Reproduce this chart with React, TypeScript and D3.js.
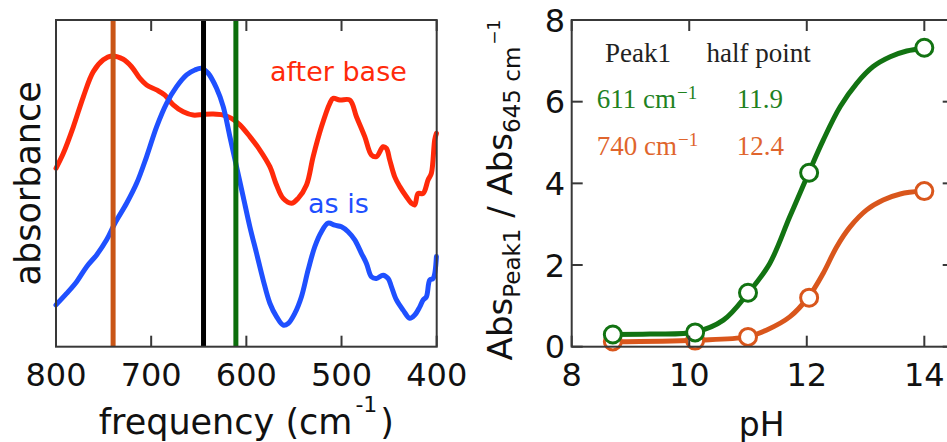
import React from 'react';
import * as d3 from 'd3';

// ---------- left panel: IR spectra ----------
const freqTicks = [800, 700, 600, 500, 400];

const afterBaseFreq = [800, 792.3, 781.8, 771.3, 760.8, 750.3, 741.6, 729.3, 720.6, 711.8, 704.8, 694.3, 685.6, 676.8, 666.3, 655.8, 645.3, 634.8, 624.3, 615.6, 606.8, 596.3, 585.8, 575.3, 568.3, 561.3, 552.6, 545.6, 536.8, 529.8, 521.1, 512.3, 508.8, 501.8, 491.3, 484.3, 475.6, 468.6, 463.3, 456.3, 452.8, 449.3, 444.1, 438.8, 431.8, 426.6, 423.1, 419.6, 414.3, 409.1, 405.6, 402.1, 400.3];
const afterBaseAbs = [0.546, 0.592, 0.673, 0.765, 0.842, 0.878, 0.89, 0.88, 0.857, 0.821, 0.801, 0.786, 0.77, 0.74, 0.719, 0.709, 0.711, 0.712, 0.709, 0.699, 0.679, 0.643, 0.602, 0.551, 0.495, 0.454, 0.439, 0.454, 0.495, 0.582, 0.673, 0.745, 0.76, 0.755, 0.755, 0.704, 0.643, 0.587, 0.582, 0.612, 0.607, 0.571, 0.52, 0.49, 0.459, 0.439, 0.434, 0.469, 0.469, 0.51, 0.531, 0.633, 0.653];

const asIsFreq = [800, 788.8, 778.3, 767.8, 757.3, 746.8, 738.1, 725.8, 715.3, 704.8, 694.3, 683.8, 673.3, 662.8, 654.1, 647.1, 640.1, 631.3, 624.3, 617.3, 610.3, 603.3, 596.3, 589.3, 582.3, 575.3, 568.3, 561.3, 556.1, 549.1, 542.1, 535.1, 528.1, 521.1, 514.1, 507.1, 500.1, 493.1, 486.1, 479.1, 473.8, 468.6, 463.3, 456.3, 451.1, 447.6, 442.3, 435.3, 428.3, 423.1, 417.8, 414.3, 410.8, 407.3, 403.8, 400.3];
const asIsAbs = [0.128, 0.163, 0.199, 0.245, 0.281, 0.327, 0.378, 0.439, 0.5, 0.582, 0.673, 0.745, 0.796, 0.832, 0.847, 0.852, 0.837, 0.791, 0.735, 0.643, 0.551, 0.459, 0.367, 0.286, 0.204, 0.133, 0.092, 0.066, 0.071, 0.102, 0.153, 0.235, 0.306, 0.352, 0.378, 0.372, 0.367, 0.352, 0.327, 0.286, 0.255, 0.214, 0.209, 0.219, 0.209, 0.184, 0.143, 0.112, 0.087, 0.097, 0.122, 0.143, 0.153, 0.204, 0.209, 0.276];

const markerFreqs = [740, 645, 611];
const markerColors = ['#c95516', '#000000', '#0b6e0b'];

// ---------- right panel: peak ratio vs pH ----------
const phTicks = [8, 10, 12, 14];
const ratioTicks = [0, 2, 4, 6, 8];

const phPoints = [8.7, 10.1, 11.0, 12.04, 14.0];
const ratio611 = [0.3, 0.35, 1.32, 4.26, 7.32];
const ratio740 = [0.13, 0.15, 0.24, 1.2, 3.81];

const fit611Ph = [8.7, 9.33, 10.1, 10.58, 11.0, 11.37, 11.71, 12.03, 12.28, 12.57, 12.85, 13.13, 13.42, 13.7, 13.98];
const fit611 = [0.3, 0.31, 0.36, 0.65, 1.31, 2.04, 3.18, 4.25, 5.06, 5.88, 6.45, 6.86, 7.1, 7.24, 7.31];
const fit740Ph = [8.7, 10.1, 10.98, 11.32, 11.71, 12.03, 12.28, 12.51, 12.74, 13.02, 13.3, 13.59, 13.98];
const fit740 = [0.12, 0.16, 0.24, 0.41, 0.73, 1.22, 1.8, 2.45, 2.94, 3.35, 3.59, 3.74, 3.81];

const legendHeader = ['Peak1', 'half point'];
const legendPeaks = ['611 cm', '740 cm'];
const legendHalf = ['11.9', '12.4'];

const RED = '#ff2a0a';
const BLUE = '#1f50ff';
const GREEN = '#127312';
const ORANGE = '#d9561c';
const AXIS = '#383838';
const SANS = '"DejaVu Sans", Verdana, sans-serif';
const SERIF = '"Liberation Serif", "Times New Roman", serif';

export default function App() {
  const top = 20;
  const bottom = 346.7;
  const tickLen = 11;

  // left panel scales
  const xF = d3.scaleLinear().domain([800, 400]).range([56, 436.7]);
  const yA = d3.scaleLinear().domain([0, 1]).range([bottom, top]);
  const spec = d3
    .line<[number, number]>()
    .x((d) => xF(d[0]))
    .y((d) => yA(d[1]))
    .curve(d3.curveCatmullRom.alpha(0.5));
  const afterBase = spec(afterBaseFreq.map((f, i) => [f, afterBaseAbs[i]]) as [number, number][]);
  const asIs = spec(asIsFreq.map((f, i) => [f, asIsAbs[i]]) as [number, number][]);

  // right panel scales
  const xP = d3.scaleLinear().domain([8, 14.5]).range([571.7, 953.7]);
  const yR = d3.scaleLinear().domain([0, 8]).range([bottom, top]);
  const fitLine = d3
    .line<[number, number]>()
    .x((d) => xP(d[0]))
    .y((d) => yR(d[1]))
    .curve(d3.curveCatmullRom.alpha(0.5));
  const fitG = fitLine(fit611Ph.map((p, i) => [p, fit611[i]]) as [number, number][]);
  const fitO = fitLine(fit740Ph.map((p, i) => [p, fit740[i]]) as [number, number][]);

  const [lx0, lx1] = xF.range();
  const [rx0, rx1] = xP.range();

  return (
    <svg
      width={947}
      height={442}
      viewBox="0 0 947 442"
      style={{ position: 'absolute', left: 0, top: 0, background: '#fff' }}
    >
      <rect x={0} y={0} width={947} height={442} fill="#fff" />

      {/* ===== left panel ===== */}
      <g>
        <path d={afterBase ?? ''} fill="none" stroke={RED} strokeWidth={5} strokeLinejoin="round" strokeLinecap="round" />
        <path d={asIs ?? ''} fill="none" stroke={BLUE} strokeWidth={5} strokeLinejoin="round" strokeLinecap="round" />
        {markerFreqs.map((f, i) => (
          <line key={f} x1={xF(f)} x2={xF(f)} y1={top} y2={bottom} stroke={markerColors[i]} strokeWidth={5} />
        ))}
        <rect x={lx0} y={top} width={lx1 - lx0} height={bottom - top} fill="none" stroke={AXIS} strokeWidth={2} />
        {freqTicks.map((t) => (
          <g key={t}>
            <line x1={xF(t)} x2={xF(t)} y1={top} y2={top + tickLen} stroke={AXIS} strokeWidth={2} />
            <line x1={xF(t)} x2={xF(t)} y1={bottom} y2={bottom - tickLen} stroke={AXIS} strokeWidth={2} />
            <text x={xF(t)} y={386} textAnchor="middle" fontFamily={SANS} fontSize={32} fill="#111">
              {t}
            </text>
          </g>
        ))}
        <text x={270} y={80.7} fontFamily={SANS} fontSize={27} fill={RED}>
          after base
        </text>
        <text x={308} y={212.5} fontFamily={SANS} fontSize={27} fill={BLUE}>
          as is
        </text>
        <text
          transform={`translate(40, ${(top + bottom) / 2}) rotate(-90)`}
          textAnchor="middle"
          fontFamily={SANS}
          fontSize={35}
          fill="#111"
        >
          absorbance
        </text>
        <text x={(lx0 + lx1) / 2} y={434} textAnchor="middle" fontFamily={SANS} fontSize={35} fill="#111">
          frequency (cm
          <tspan fontSize={22} dy={-22} dx={3}>-1</tspan>
          <tspan dy={22} dx={3}>)</tspan>
        </text>
      </g>

      {/* ===== right panel ===== */}
      <g>
        <path d={fitO ?? ''} fill="none" stroke={ORANGE} strokeWidth={5} strokeLinecap="round" />
        {phPoints.map((p, i) => (
          <circle key={`o${p}`} cx={xP(p)} cy={yR(ratio740[i])} r={8.5} fill="#fff" stroke={ORANGE} strokeWidth={3} />
        ))}
        <path d={fitG ?? ''} fill="none" stroke={GREEN} strokeWidth={5} strokeLinecap="round" />
        {phPoints.map((p, i) => (
          <circle key={`g${p}`} cx={xP(p)} cy={yR(ratio611[i])} r={8.5} fill="#fff" stroke={GREEN} strokeWidth={3} />
        ))}
        <rect x={rx0} y={top} width={rx1 - rx0} height={bottom - top} fill="none" stroke={AXIS} strokeWidth={2} />
        {phTicks.map((t) => (
          <g key={t}>
            <line x1={xP(t)} x2={xP(t)} y1={top} y2={top + tickLen} stroke={AXIS} strokeWidth={2} />
            <line x1={xP(t)} x2={xP(t)} y1={bottom} y2={bottom - tickLen} stroke={AXIS} strokeWidth={2} />
            <text x={xP(t)} y={386} textAnchor="middle" fontFamily={SANS} fontSize={32} fill="#111">
              {t}
            </text>
          </g>
        ))}
        {ratioTicks.map((t) => (
          <g key={t}>
            <line x1={rx0} x2={rx0 + tickLen} y1={yR(t)} y2={yR(t)} stroke={AXIS} strokeWidth={2} />
            <line x1={rx1} x2={rx1 - tickLen} y1={yR(t)} y2={yR(t)} stroke={AXIS} strokeWidth={2} />
            <text x={565} y={yR(t)} dy="0.36em" textAnchor="end" fontFamily={SANS} fontSize={32} fill="#111">
              {t}
            </text>
          </g>
        ))}
        <text x={(rx0 + 953.7) / 2 - 1} y={436} textAnchor="middle" fontFamily={SANS} fontSize={33} fill="#111">
          pH
        </text>
        <text
          transform={`translate(512, 190) rotate(-90)`}
          textAnchor="middle"
          fontFamily={SANS}
          fontSize={34}
          fill="#111"
        >
          Abs
          <tspan fontSize={23} dy={8}>Peak1</tspan>
          <tspan dy={-8}> / Abs</tspan>
          <tspan fontSize={23} dy={8}>645 cm</tspan>
          <tspan fontSize={17} dy={-20} dx={2}>−1</tspan>
        </text>

        {/* legend table */}
        <text x={605} y={61.7} fontFamily={SERIF} fontSize={27} fill="#222">{legendHeader[0]}</text>
        <text x={706.5} y={61.7} fontFamily={SERIF} fontSize={27} fill="#222">{legendHeader[1]}</text>
        {legendPeaks.map((lab, i) => {
          const color = i === 0 ? '#1f821f' : '#e0652d';
          const y = 108.3 + i * 46.7;
          return (
            <g key={lab}>
              <text x={596.7} y={y} fontFamily={SERIF} fontSize={27} fill={color}>
                {lab}
                <tspan fontSize={19} dy={-9} dx={1}>−1</tspan>
              </text>
              <text x={736.7} y={y} fontFamily={SERIF} fontSize={27} fill={color}>
                {legendHalf[i]}
              </text>
            </g>
          );
        })}
      </g>
    </svg>
  );
}
